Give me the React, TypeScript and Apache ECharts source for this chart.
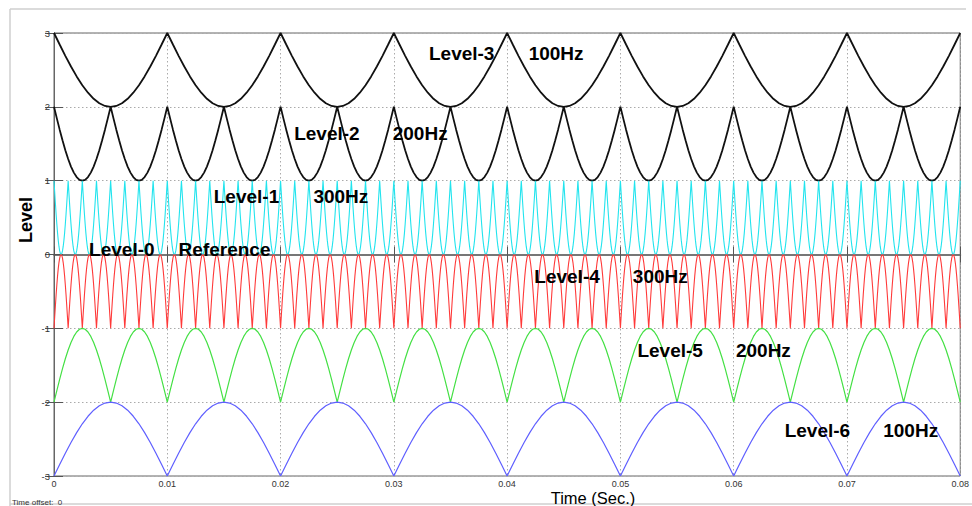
import React, { useEffect, useRef } from "react";
import * as echarts from "echarts";

// Shape of one hump (half-period of the waveform): 0 → 1 → 0
const humpProfile = [
  0, 0.156, 0.309, 0.454, 0.588, 0.707, 0.809, 0.891, 0.951, 0.988, 1,
  0.988, 0.951, 0.891, 0.809, 0.707, 0.588, 0.454, 0.309, 0.156, 0,
];

const levelNames = ["Level-3", "Level-2", "Level-1", "Level-4", "Level-5", "Level-6"];
const cuspLevels = [3, 2, 1, -1, -2, -3];
const humpDirections = [-1, -1, -1, 1, 1, 1];
const humpsPer10ms = [1, 2, 8, 8, 2, 1];
const levelColors = ["#111111", "#111111", "#22e4ee", "#ff3a3a", "#44e044", "#5f5fff"];
const levelWidths = [1.8, 1.8, 1.1, 1.1, 1.2, 1.2];

const xTicks = [0, 0.01, 0.02, 0.03, 0.04, 0.05, 0.06, 0.07, 0.08];
const yTicks = [-3, -2, -1, 0, 1, 2, 3];

// annotation labels: [x (s), y (level), text]
const labelX = [0.0331, 0.0419, 0.0212, 0.0299, 0.0141, 0.0229, 0.0031, 0.011, 0.0424, 0.0511, 0.0515, 0.0602, 0.0645, 0.0732];
const labelY = [2.72, 2.72, 1.64, 1.64, 0.79, 0.79, 0.07, 0.07, -0.3, -0.3, -1.3, -1.3, -2.38, -2.38];
const labelTexts = ["Level-3", "100Hz", "Level-2", "200Hz", "Level-1", "300Hz", "Level-0", "Reference", "Level-4", "300Hz", "Level-5", "200Hz", "Level-6", "100Hz"];

const T_END = xTicks[xTicks.length - 1];

function buildWave(i: number): number[][] {
  const w = 0.01 / humpsPer10ms[i];
  const n = Math.round(T_END / w);
  const steps = humpProfile.length - 1;
  const pts: number[][] = [];
  for (let k = 0; k < n; k++) {
    for (let j = k === 0 ? 0 : 1; j <= steps; j++) {
      pts.push([k * w + (j * w) / steps, cuspLevels[i] + humpDirections[i] * humpProfile[j]]);
    }
  }
  return pts;
}

export default function App() {
  const ref = useRef<HTMLDivElement>(null);
  useEffect(() => {
    if (!ref.current) return;
    const chart = echarts.init(ref.current, undefined, { renderer: "svg" });
    const font = "'Liberation Sans', Arial, sans-serif";
    const series: any[] = levelNames.map((name, i) => ({
      name,
      type: "line",
      data: buildWave(i),
      showSymbol: false,
      symbol: "none",
      lineStyle: { color: levelColors[i], width: levelWidths[i] },
      silent: true,
      z: 2,
    }));
    series.push({
      type: "scatter",
      data: labelX.map((x, i) => [x, labelY[i], labelTexts[i]]),
      symbolSize: 0,
      silent: true,
      itemStyle: { opacity: 1 },
      z: 5,
      label: {
        show: true,
        position: [0, 0],
        align: "left",
        verticalAlign: "middle",
        formatter: (p: any) => p.value[2],
        color: "#000",
        opacity: 1,
        fontSize: 19,
        fontWeight: "bold",
        fontFamily: font,
      },
    });
    const tickLabelStyle = { color: "#333", fontSize: 9, fontFamily: font };
    chart.setOption({
      animation: false,
      backgroundColor: "#fff",
      grid: { left: 54, right: 5, top: 33, bottom: 30, show: true, borderColor: "#666", borderWidth: 1 },
      xAxis: [
        {
          type: "value",
          min: 0,
          max: T_END,
          interval: 0.01,
          axisLine: { show: true, lineStyle: { color: "#444", width: 1 } },
          axisTick: { show: true, inside: true, length: 8, lineStyle: { color: "#555" } },
          axisLabel: { ...tickLabelStyle, margin: 3, formatter: (v: number) => (v === 0 ? "0" : v.toFixed(2)) },
          splitLine: { show: true, lineStyle: { color: "#aaa", type: [1.5, 2.5], width: 1 } },
        },
        {
          type: "value",
          position: "top",
          min: 0,
          max: T_END,
          interval: 0.01,
          axisLine: { show: true, lineStyle: { color: "#777", width: 2 } },
          axisTick: { show: true, inside: true, length: 8, lineStyle: { color: "#555" } },
          axisLabel: { show: false },
          splitLine: { show: false },
        },
      ],
      yAxis: [
        {
          type: "value",
          min: yTicks[0],
          max: yTicks[yTicks.length - 1],
          interval: 1,
          axisLine: { show: true, lineStyle: { color: "#444", width: 1 } },
          axisTick: { show: true, inside: true, length: 9, lineStyle: { color: "#555" } },
          axisLabel: { ...tickLabelStyle, fontSize: 9.5, margin: 4 },
          splitLine: { show: true, lineStyle: { color: "#aaa", type: [1.5, 2.5], width: 1 } },
        },
        {
          type: "value",
          position: "right",
          min: yTicks[0],
          max: yTicks[yTicks.length - 1],
          interval: 1,
          axisLine: { show: true, lineStyle: { color: "#666", width: 1 } },
          axisTick: { show: true, inside: true, length: 9, lineStyle: { color: "#555" } },
          axisLabel: { show: false },
          splitLine: { show: false },
        },
      ],
      series,
      graphic: [
        { type: "line", shape: { x1: 10, y1: 9, x2: 966, y2: 9 }, style: { stroke: "#cfcfcf", lineWidth: 1.5 }, silent: true },
        { type: "line", shape: { x1: 10, y1: 9, x2: 10, y2: 506 }, style: { stroke: "#cfcfcf", lineWidth: 1.5 }, silent: true },
        { type: "line", shape: { x1: 10, y1: 504, x2: 972, y2: 504 }, style: { stroke: "#cfcfcf", lineWidth: 1.5 }, silent: true },
        {
          type: "text",
          x: 26,
          y: 220,
          rotation: Math.PI / 2,
          style: { text: "Level", fill: "#000", font: `bold 18px ${font}`, align: "center", verticalAlign: "middle" },
        },
        {
          type: "text",
          x: 593,
          y: 497.5,
          style: { text: "Time (Sec.)", fill: "#000", font: `16.5px ${font}`, align: "center", verticalAlign: "middle" },
        },
        {
          type: "text",
          x: 12,
          y: 502,
          style: { text: "Time offset:  0", fill: "#333", font: `8px ${font}`, align: "left", verticalAlign: "middle" },
        },
      ],
    });
    return () => chart.dispose();
  }, []);
  return <div ref={ref} style={{ position: "fixed", left: 0, top: 0, width: 972, height: 506 }} />;
}
